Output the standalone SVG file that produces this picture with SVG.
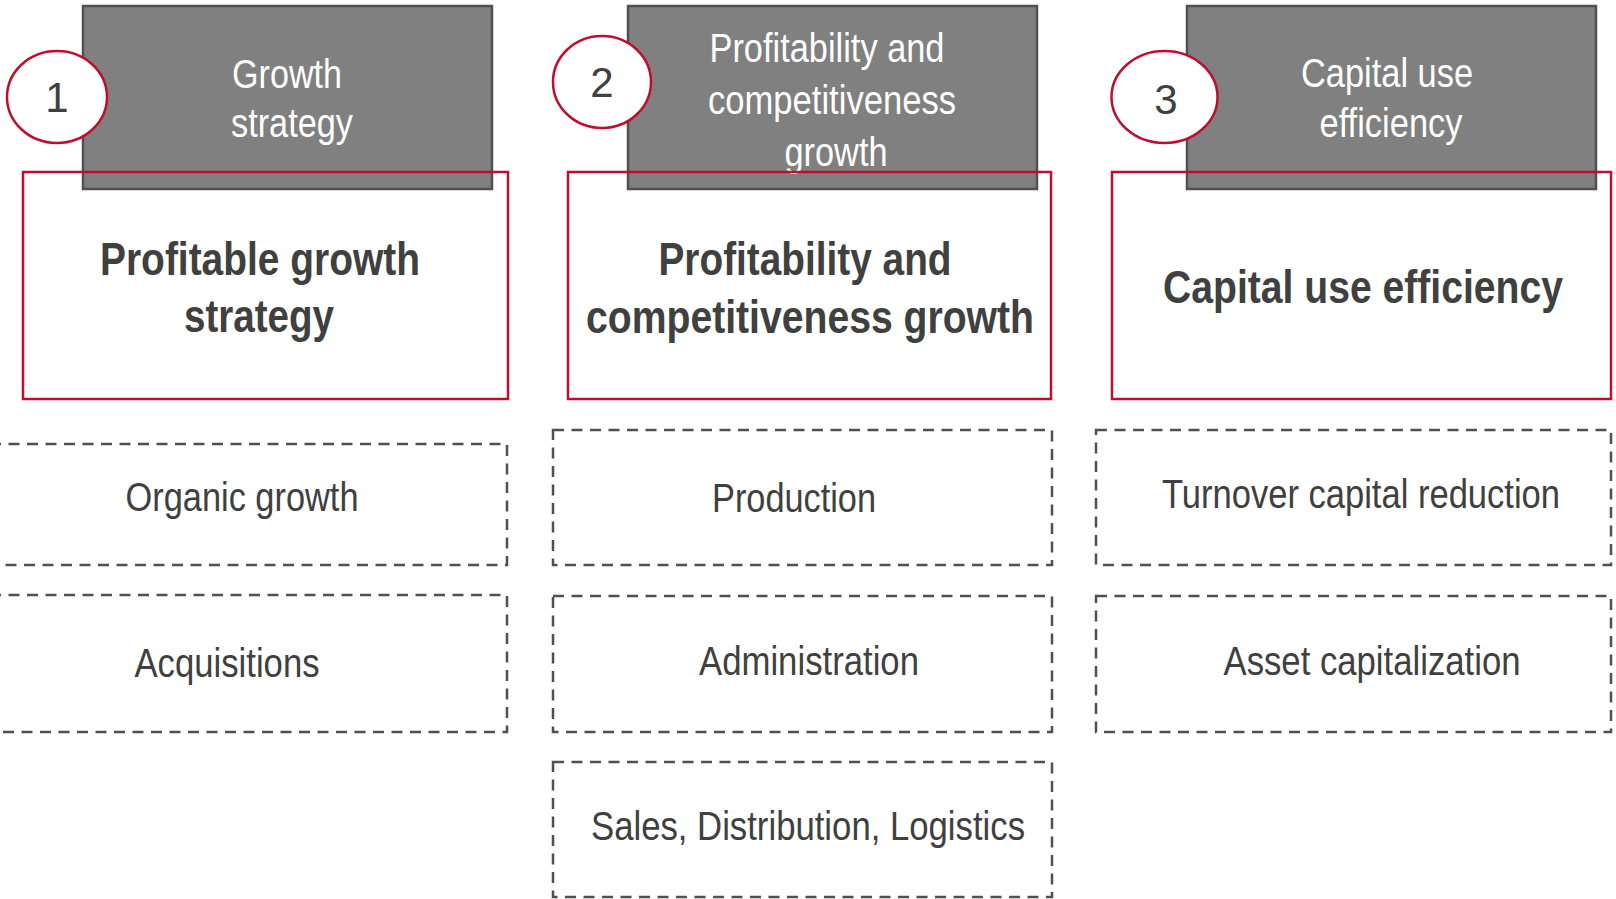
<svg xmlns="http://www.w3.org/2000/svg" width="1616" height="899" viewBox="0 0 1616 899">
  <style>
    .head { fill: #808080; stroke: #505050; stroke-width: 2.5; }
    .frame { fill: none; stroke: #c00d2e; stroke-width: 2.5; }
    .badge { fill: #ffffff; stroke: #c00d2e; stroke-width: 2.5; }
    .lever { fill: none; stroke: #505050; stroke-width: 2.5; stroke-dasharray: 11 7.5; }
    text { font-family: "Liberation Sans Narrow", "Liberation Sans", Arial, sans-serif; text-anchor: middle; }
    .ht { fill: #ffffff; font-size: 41px; }
    .num { fill: #404040; font-size: 42px; }
    .title { fill: #404040; font-size: 47px; font-weight: bold; }
    .lt { fill: #404040; font-size: 41px; }
  </style>

  <!-- Pillar 1 -->
  <g id="pillar1">
    <rect class="head" x="83" y="6" width="409" height="183"/>
    <text class="ht" x="287" y="88" textLength="110" lengthAdjust="spacingAndGlyphs">Growth</text>
    <text class="ht" x="292" y="137" textLength="122" lengthAdjust="spacingAndGlyphs">strategy</text>
    <rect class="frame" x="23" y="172" width="485" height="227"/>
    <text class="title" x="260" y="275" textLength="320" lengthAdjust="spacingAndGlyphs">Profitable growth</text>
    <text class="title" x="259" y="332" textLength="150" lengthAdjust="spacingAndGlyphs">strategy</text>
    <ellipse class="badge" cx="57" cy="97" rx="50" ry="46"/>
    <text class="num" x="57" y="112">1</text>
  </g>

  <!-- Pillar 2 -->
  <g id="pillar2">
    <rect class="head" x="628" y="6" width="409" height="183"/>
    <text class="ht" x="827" y="62" textLength="235" lengthAdjust="spacingAndGlyphs">Profitability and</text>
    <text class="ht" x="832" y="114" textLength="248" lengthAdjust="spacingAndGlyphs">competitiveness</text>
    <text class="ht" x="836" y="166" textLength="103" lengthAdjust="spacingAndGlyphs">growth</text>
    <rect class="frame" x="568" y="172" width="483" height="227"/>
    <text class="title" x="805" y="275" textLength="293" lengthAdjust="spacingAndGlyphs">Profitability and</text>
    <text class="title" x="810" y="333" textLength="448" lengthAdjust="spacingAndGlyphs">competitiveness growth</text>
    <ellipse class="badge" cx="602" cy="82" rx="49" ry="46"/>
    <text class="num" x="602" y="97">2</text>
  </g>

  <!-- Pillar 3 -->
  <g id="pillar3">
    <rect class="head" x="1187" y="6" width="409" height="183"/>
    <text class="ht" x="1387" y="87" textLength="172" lengthAdjust="spacingAndGlyphs">Capital use</text>
    <text class="ht" x="1391" y="137" textLength="143" lengthAdjust="spacingAndGlyphs">efficiency</text>
    <rect class="frame" x="1112" y="172" width="499" height="227"/>
    <text class="title" x="1363" y="303" textLength="400" lengthAdjust="spacingAndGlyphs">Capital use efficiency</text>
    <ellipse class="badge" cx="1164.5" cy="97" rx="53" ry="46"/>
    <text class="num" x="1166" y="114">3</text>
  </g>

  <!-- Levers, pillar 1 -->
  <g id="organic-growth">
    <rect class="lever" x="-10" y="444" width="517" height="121"/>
    <text class="lt" x="242" y="511" textLength="233" lengthAdjust="spacingAndGlyphs">Organic growth</text>
  </g>
  <g id="acquisitions">
    <rect class="lever" x="-10" y="595" width="517" height="137"/>
    <text class="lt" x="227" y="677" textLength="185" lengthAdjust="spacingAndGlyphs">Acquisitions</text>
  </g>

  <!-- Levers, pillar 2 -->
  <g id="production">
    <rect class="lever" x="553" y="430" width="499" height="135"/>
    <text class="lt" x="794" y="512" textLength="164" lengthAdjust="spacingAndGlyphs">Production</text>
  </g>
  <g id="administration">
    <rect class="lever" x="553" y="596" width="499" height="136"/>
    <text class="lt" x="809" y="675" textLength="220" lengthAdjust="spacingAndGlyphs">Administration</text>
  </g>
  <g id="sales-distribution-logistics">
    <rect class="lever" x="553" y="762" width="499" height="135"/>
    <text class="lt" x="808" y="840" textLength="434" lengthAdjust="spacingAndGlyphs">Sales, Distribution, Logistics</text>
  </g>

  <!-- Levers, pillar 3 -->
  <g id="turnover-capital">
    <rect class="lever" x="1096" y="430" width="515" height="135"/>
    <text class="lt" x="1361" y="508" textLength="398" lengthAdjust="spacingAndGlyphs">Turnover capital reduction</text>
  </g>
  <g id="asset-capitalization">
    <rect class="lever" x="1096" y="596" width="515" height="136"/>
    <text class="lt" x="1372" y="675" textLength="297" lengthAdjust="spacingAndGlyphs">Asset capitalization</text>
  </g>

  <!-- no connectors in this layout -->
  <g id="connectors"/>
</svg>
